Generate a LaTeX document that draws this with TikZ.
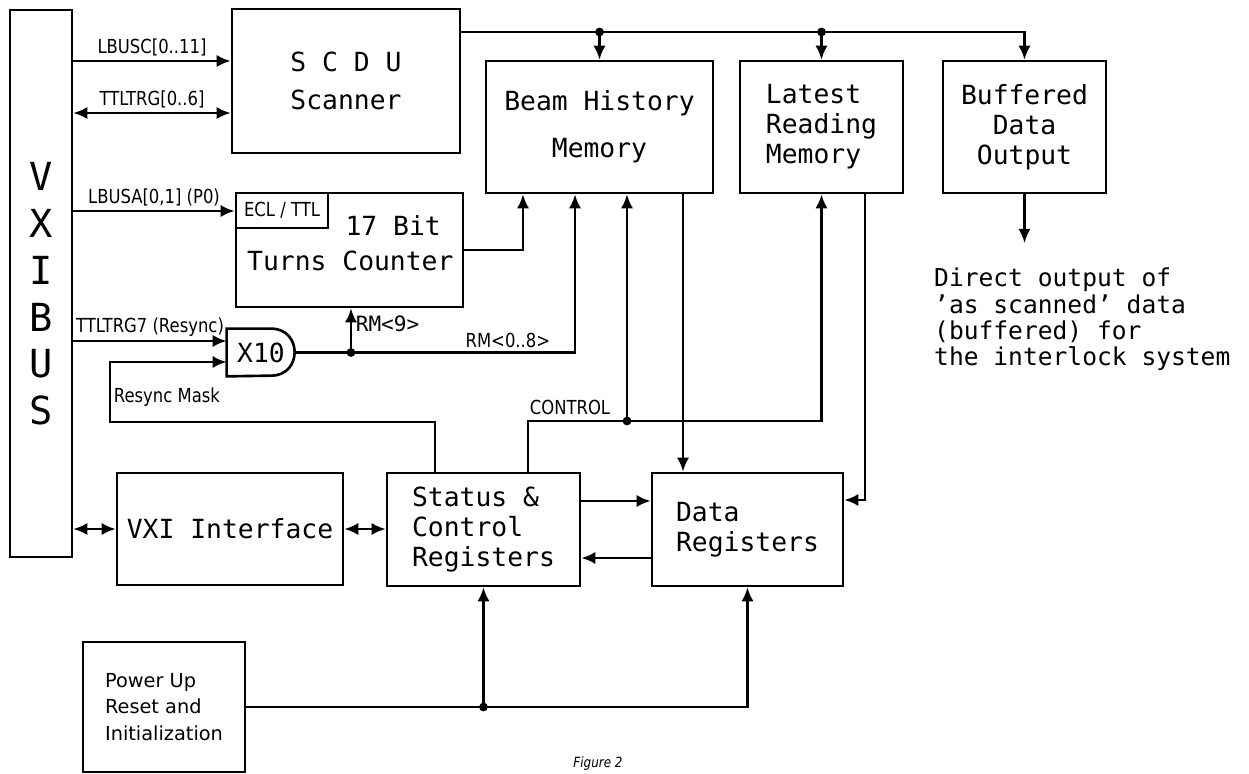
\documentclass[tikz,border=0pt]{standalone}
\usepackage{fontspec}
\setmainfont{DejaVu Sans Mono}
\newfontfamily\wirefont{DejaVu Sans}[FakeStretch=0.85]
\newfontfamily\boxsans{DejaVu Sans}
\usetikzlibrary{arrows.meta}

\begin{document}
\begin{tikzpicture}[x=0.02cm, y=-0.02cm,
    >={Latex[length=8pt,width=7pt]},
    every node/.style={font=\fontsize{15}{17}\selectfont},
    wire/.style={line width=1.5pt},
    block/.style={draw, line width=1.5pt, inner sep=0pt},
    lbl/.style={font=\wirefont\fontsize{11}{11}\selectfont, inner sep=2pt},
    dot/.style={circle, fill, inner sep=0pt, minimum size=5pt}]

        \useasboundingbox (0,0) rectangle (1249,774);

        % 1. Bus VXI verticale a sinistra
        \node[block, minimum width=1.24cm, minimum height=10.94cm] (bus) at (41,283.5) {};
        \node[font=\fontsize{22}{26.6}\selectfont, align=center] (busname) at (bus.center |- 0,294) {V\\X\\I\\B\\U\\S};

        % 2. Blocchi funzionali
        \node[block, minimum width=4.56cm, minimum height=2.88cm, align=left] (scdu) at (346,81) {S C D U\\[5pt]Scanner};
        \node[block, minimum width=4.54cm, minimum height=2.28cm] (turns) at (349.5,250) {};
        \node[block, lbl, minimum width=1.84cm, minimum height=0.7cm] (ecl) at (282,210.5) {ECL / TTL};
        \node[anchor=north west, align=left] (turnstxt) at (241,209) {\hspace*{56pt}17 Bit\\[3pt]Turns Counter};
        \node[block, minimum width=4.54cm, minimum height=2.64cm, align=center] (beam) at (599.5,127) {Beam History\\[10pt]Memory};
        \node[block, minimum width=3.26cm, minimum height=2.64cm, align=left] (latest) at (821.5,127) {Latest\\Reading\\Memory};
        \node[block, minimum width=3.26cm, minimum height=2.64cm, align=center] (buffered) at (1024.5,127) {Buffered\\Data\\Output};
        \node[block, minimum width=4.52cm, minimum height=2.24cm] (vxi) at (230,529) {VXI Interface};
        \node[block, minimum width=3.86cm, minimum height=2.26cm, align=left] (status) at (483.5,529.5) {Status \&\\Control\\Registers};
        \node[block, minimum width=3.82cm, minimum height=2.26cm, align=left] (data) at (747.5,529.5) {Data\\Registers};
        \node[block, minimum width=3.24cm, minimum height=2.6cm, align=left, font=\boxsans\fontsize{11}{15}\selectfont] (power) at (164,707) {Power Up\\Reset and\\Initialization};

        % 3. Porta X10
        \node[minimum width=1.36cm, minimum height=0.94cm, inner sep=0pt] (gate) at (261,352.5) {X10};
        \draw[wire] (gate.north west) -- ++(44.5,0) .. controls +(31.3,0) and +(31.3,0) .. ++(0,47) -- (gate.south west) -- cycle;

        % 4. Segnali dal bus VXI
        \draw[wire, ->] (bus.east |- 0,61) -- (scdu.west |- 0,61) node[lbl, midway, above] (lbusc) {LBUSC[0..11]};
        \draw[wire, <->] (bus.east |- 0,113) -- (scdu.west |- 0,113) node[lbl, midway, above] (ttltrg) {TTLTRG[0..6]};
        \draw[wire, ->] (bus.east |- 0,211) -- (ecl.west |- 0,211) node[lbl, midway, above] (lbusa) {LBUSA[0,1] (P0)};
        \draw[wire, ->] (bus.east |- 0,341) -- (gate.west |- 0,341) node[lbl, midway, above] (trg7) {TTLTRG7 (Resync)};

        % 5. Uscita della porta verso contatore e memoria
        \node[dot] (j9) at (gate.east -| 351,0) {};
        \draw[wire, ->] (gate.east) -| (beam.south -| 575,0) node[lbl, pos=0.38, above] (rm08) {RM<0..8>};
        \draw[wire, ->] (j9.center) -- (turns.south -| j9) node[pos=0.65, right, inner sep=2pt, font=\fontsize{12}{12}\selectfont] (rm9) {RM<9>};

        % 6. Maschera di resync
        \coordinate (rsm) at (110,422);
        \draw[wire, ->] (status.north -| 435,0) |- (rsm) |- (gate.west |- 0,362);
        \node[lbl, anchor=west] (rsmlbl) at (110,397) {Resync Mask};

        % 7. Contatore verso la memoria
        \draw[wire, ->] (turns.east) -| (beam.south -| 523,0);

        % 8. Linee di controllo
        \node[dot] (jc) at (627,421) {};
        \draw[wire, ->] (status.north -| 528,0) |- (jc.center) -| (latest.south);
        \draw[wire, ->] (jc.center) -- (beam.south -| jc);
        \node[lbl, anchor=south west] (ctllbl) at (526,419) {CONTROL};

        % 9. Memorie verso i registri dati
        \draw[wire, ->] (beam.south -| 683,0) -- (data.north -| 683,0);
        \draw[wire, ->] (latest.south -| 865,0) |- (data.east |- 0,500);

        % 10. Registri di stato e dati
        \draw[wire, ->] (status.east |- 0,501) -- (data.west |- 0,501);
        \draw[wire, ->] (data.west |- 0,558) -- (status.east |- 0,558);

        % 11. Interfaccia VXI
        \draw[wire, <->] (bus.east |- vxi.west) -- (vxi.west);
        \draw[wire, <->] (vxi.east) -- (status.west |- vxi.east);

        % 12. Reset all'accensione
        \node[dot] (jp) at (power.east -| status.south) {};
        \draw[wire, ->] (power.east) -| (data.south);
        \draw[wire, ->] (jp.center) -- (status.south);

        % 13. Bus dati dallo scanner
        \node[dot] (jb) at (beam.north |- 0,32) {};
        \node[dot] (jl) at (latest.north |- 0,32) {};
        \draw[wire, ->] (scdu.east |- jb) -| (buffered.north);
        \draw[wire, ->] (jb.center) -- (beam.north);
        \draw[wire, ->] (jl.center) -- (latest.north);

        % 14. Uscita diretta
        \coordinate (outend) at (buffered.south |- 0,243);
        \draw[wire, ->] (buffered.south) -- (outend);
        \node[anchor=north west, align=left, font=\fontsize{14}{15}\selectfont] (note) at (928,262) {Direct output of\\'as scanned' data\\(buffered) for\\the interlock system};

        % 15. Didascalia
        \node[font=\wirefont\itshape\fontsize{8}{8}\selectfont] (fig) at (598,764) {Figure 2};

    \end{tikzpicture}
\end{document}
